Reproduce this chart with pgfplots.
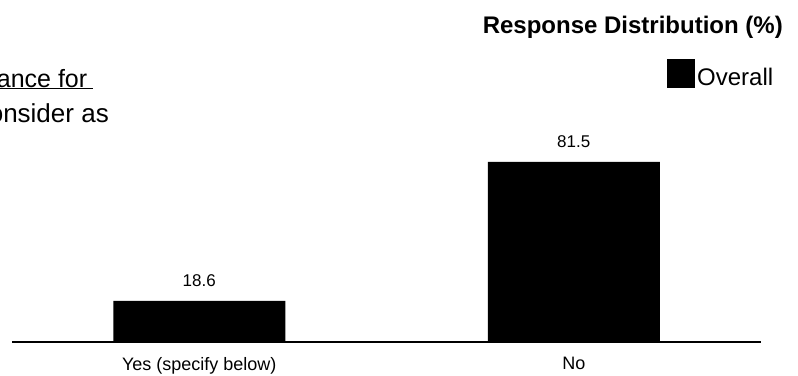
\documentclass[border=0pt]{standalone}
\usepackage{fontspec}
\setmainfont{Liberation Sans}
\usepackage{pgfplots}
\pgfplotsset{compat=1.18}

\begin{document}
\begin{tikzpicture}[x=1bp,y=1bp]
  \path[use as bounding box] (0,0) rectangle (798,375);
  \begin{scope}
    \clip (0,0) rectangle (798,375);
    % question text (continues beyond the left edge)
    \node[anchor=base east, inner sep=0pt, font=\fontsize{25bp}{29bp}\selectfont]
      at (93,288) {\underline{assistance for\hphantom{i}}};
    \node[anchor=base east, inner sep=0pt, font=\fontsize{26bp}{30bp}\selectfont]
      at (109,253) {you consider as};
  \end{scope}
  % chart heading
  \node[anchor=base east, inner sep=0pt, font=\fontsize{24bp}{28bp}\selectfont\bfseries]
    at (783,342) {Response Distribution (\%)};

  \begin{axis}[
    at={(12bp,33bp)}, anchor=south west,
    scale only axis,
    width=749bp, height=221bp,
    xmin=-0.5, xmax=1.5,
    ymin=0, ymax=100,
    axis x line=bottom,
    axis y line=none,
    x axis line style={line width=2bp, -},
    xtick=data,
    xticklabels={Yes (specify below), No},
    major tick length=0pt,
    xticklabel style={font=\fontsize{18bp}{21bp}\selectfont, inner sep=0pt, yshift=-15bp},
    ybar, bar width=172bp,
    nodes near coords,
    nodes near coords style={font=\fontsize{17bp}{20bp}\selectfont, inner sep=0pt, anchor=south, yshift=14bp,
      /pgf/number format/.cd, fixed, fixed zerofill, precision=1, assume math mode=true},
    legend style={at={(rel axis cs:0.8745,1.2805)}, anchor=north west, draw=none,
      fill=none, inner sep=0pt, font=\fontsize{24bp}{28bp}\selectfont,
      /tikz/every even column/.append style={column sep=4bp}},
    legend image code/.code={\fill[black] (0bp,-11bp) rectangle (28bp,18bp);},
    clip=false,
  ]
    \addplot[fill=black, draw=none] coordinates {(0,18.6) (1,81.5)};
    \addlegendentry{Overall}
  \end{axis}
\end{tikzpicture}
\end{document}
